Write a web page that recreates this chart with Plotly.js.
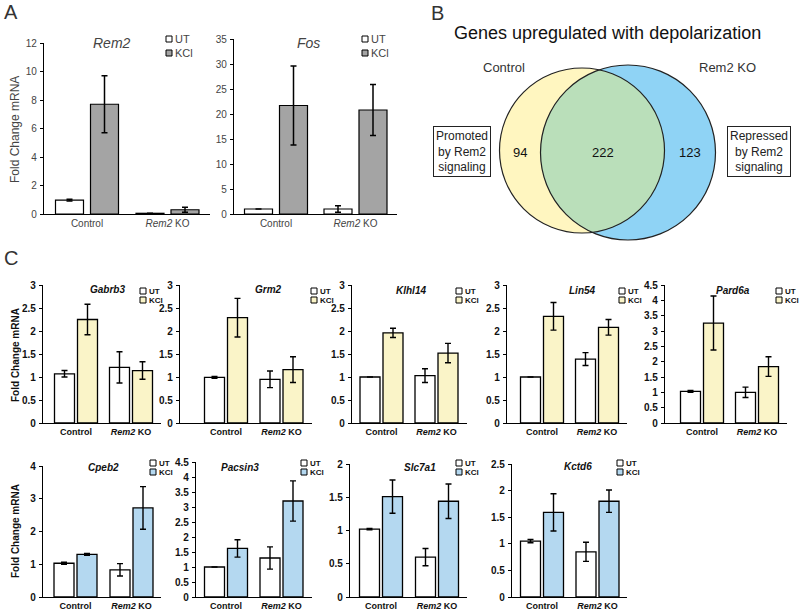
<!DOCTYPE html>
<html>
<head>
<meta charset="utf-8">
<script src="https://cdn.plot.ly/plotly-3.0.1.min.js"></script>
<style>
  html, body { margin: 0; padding: 0; background: #fff; }
  #chart { width: 800px; height: 612px; }
</style>
</head>
<body>
<div id="chart"></div>
<script>
// Groups on every bar panel
const groups = ['Control', 'Rem2 KO'];
const groupLabels = ['Control', '<i>Rem2</i> KO'];

// Panel A: Rem2 and Fos (fold change mRNA, mean and error)
const rem2UT = [0.98, 0.05];
const rem2UTErr = [0.06, 0];
const rem2KCl = [7.7, 0.3];
const rem2KClErr = [2.0, 0.17];
const fosUT = [1.0, 1.0];
const fosUTErr = [0, 0.65];
const fosKCl = [21.7, 20.8];
const fosKClErr = [7.9, 5.1];

// Panel B: Venn counts (Control only, both, Rem2 KO only)
const vennSets = ['Control', 'Rem2 KO'];
const vennCounts = [94, 222, 123];
const vennNotes = ['Promoted<br>by Rem2<br>signaling', 'Repressed<br>by Rem2<br>signaling'];

// Panel C: genes, fold change mRNA per condition
const genesC = ['Gabrb3', 'Grm2', 'Klhl14', 'Lin54', 'Pard6a', 'Cpeb2', 'Pacsin3', 'Slc7a1', 'Kctd6'];
const utCtrl = [1.07, 0.99, 1.0, 1.0, 1.03, 1.03, 1.0, 1.02, 1.05];
const utCtrlErr = [0.07, 0.02, 0, 0, 0.03, 0.03, 0, 0.01, 0.03];
const utKO = [1.21, 0.95, 1.03, 1.39, 1.0, 0.83, 1.3, 0.6, 0.85];
const utKOErr = [0.34, 0.18, 0.15, 0.14, 0.17, 0.19, 0.37, 0.13, 0.18];
const kclCtrl = [2.25, 2.29, 1.96, 2.32, 3.26, 1.3, 1.62, 1.51, 1.59];
const kclCtrlErr = [0.33, 0.42, 0.1, 0.3, 0.88, 0.03, 0.29, 0.25, 0.35];
const kclKO = [1.14, 1.16, 1.52, 2.08, 1.84, 2.72, 3.2, 1.44, 1.8];
const kclKOErr = [0.19, 0.28, 0.21, 0.17, 0.32, 0.65, 0.67, 0.26, 0.21];

const W = 800, H = 612;
function px(x) { return x / W; }
function py(y) { return 1 - y / H; }

const fontA = 'Liberation Sans, Arial, sans-serif';
const fontC = 'Liberation Sans Narrow, Liberation Sans, Arial, sans-serif';

// panel geometry in page pixels
const panelsA = [
  {name: 'Rem2', ut: rem2UT, utErr: rem2UTErr, kcl: rem2KCl, kclErr: rem2KClErr,
   x0: 44, x1: 210, c0: 87, c1: 167.5, yTop: 43, yBot: 214, ymax: 12, dtick: 2,
   title: [112, 43], legend: [166, 39]},
  {name: 'Fos', ut: fosUT, utErr: fosUTErr, kcl: fosKCl, kclErr: fosKClErr,
   x0: 234, x1: 397, c0: 276, c1: 355.5, yTop: 39, yBot: 214, ymax: 35, dtick: 5,
   title: [308, 43], legend: [362, 39]}
];

const geomC = [
  {x0: 43, x1: 161, c0: 76, c1: 131, yTop: 285, yBot: 423, ymax: 3, dtick: 0.5, title: [107, 289], legend: [140, 291]},
  {x0: 180, x1: 312, c0: 226, c1: 281.5, yTop: 285, yBot: 423, ymax: 3, dtick: 0.5, title: [268, 289], legend: [311, 291]},
  {x0: 352, x1: 467, c0: 381.5, c1: 436.5, yTop: 285, yBot: 423, ymax: 3, dtick: 0.5, title: [411, 290], legend: [456, 291]},
  {x0: 507, x1: 627, c0: 542, c1: 597, yTop: 285, yBot: 423, ymax: 3, dtick: 0.5, title: [582, 290], legend: [619, 291]},
  {x0: 665, x1: 787, c0: 702, c1: 757, yTop: 285, yBot: 423, ymax: 4.5, dtick: 0.5, title: [733, 290], legend: [776, 291]},
  {x0: 43, x1: 161, c0: 75.5, c1: 131.5, yTop: 466, yBot: 597, ymax: 4, dtick: 1, title: [103, 467], legend: [150, 463]},
  {x0: 196, x1: 312, c0: 226, c1: 281.5, yTop: 462, yBot: 597, ymax: 4.5, dtick: 0.5, title: [240, 468], legend: [301, 463]},
  {x0: 350, x1: 467, c0: 381, c1: 437, yTop: 464, yBot: 597, ymax: 2, dtick: 0.5, title: [420, 467], legend: [456, 463]},
  {x0: 512, x1: 627, c0: 542, c1: 597.5, yTop: 464, yBot: 597, ymax: 2.5, dtick: 0.5, title: [578, 466], legend: [617, 463]}
];

const data = [];
const layout = {
  width: W, height: H,
  margin: {l: 0, r: 0, t: 0, b: 0},
  paper_bgcolor: '#ffffff',
  plot_bgcolor: 'rgba(0,0,0,0)',
  showlegend: false,
  barmode: 'overlay',
  annotations: [],
  shapes: []
};

function addText(text, x, y, opts) {
  layout.annotations.push(Object.assign({
    text: text, xref: 'paper', yref: 'paper', x: px(x), y: py(y),
    xanchor: 'center', yanchor: 'middle', showarrow: false
  }, opts));
}

function addBarPanel(n, g, vals, style) {
  const s = g.c1 - g.c0;
  const xa = 'xaxis' + (n === 1 ? '' : n);
  const ya = 'yaxis' + (n === 1 ? '' : n);
  const xr = 'x' + (n === 1 ? '' : n);
  const yr = 'y' + (n === 1 ? '' : n);
  layout[xa] = {
    domain: [px(g.x0), px(g.x1)], anchor: yr, type: 'category',
    range: [-(g.c0 - g.x0) / s, 1 + (g.x1 - g.c1) / s],
    tickmode: 'array', tickvals: groups, ticktext: groupLabels,
    showline: true, linecolor: '#000', linewidth: style.axisW, ticks: '',
    showgrid: false, zeroline: false, fixedrange: true,
    tickfont: style.xTickFont || style.tickFont, ticklabelstandoff: 0
  };
  layout[ya] = {
    domain: [py(g.yBot), py(g.yTop)], anchor: xr,
    range: [0, g.ymax], dtick: g.dtick, tick0: 0,
    showline: true, linecolor: '#000', linewidth: style.axisW,
    ticks: 'outside', ticklen: 3, tickwidth: 1, tickcolor: '#000',
    showgrid: false, zeroline: false, fixedrange: true,
    tickfont: style.tickFont, ticklabelstandoff: 1
  };
  const w = style.barPx / s;
  const off = style.gapPx / 2 / s;
  const series = [
    {y: vals.ut, e: vals.utErr, color: '#ffffff', offset: -off - w, name: 'UT'},
    {y: vals.kcl, e: vals.kclErr, color: style.kclColor, offset: off, name: 'KCl'}
  ];
  series.forEach(function(sr) {
    data.push({
      type: 'bar', x: groups, y: sr.y, name: sr.name,
      xaxis: xr, yaxis: yr, width: w, offset: sr.offset,
      marker: {color: sr.color, line: {color: '#000', width: style.barLine}},
      error_y: {type: 'data', array: sr.e, visible: true, color: '#000',
                thickness: style.errW, width: style.capW},
      hoverinfo: 'skip'
    });
  });
  // gene title
  addText('<i>' + vals.title + '</i>', g.title[0], g.title[1], {font: style.titleFont});
  // small legend
  [['UT', '#ffffff'], ['KCl', style.kclColor]].forEach(function(it, i) {
    const lx = g.legend[0], ly = g.legend[1] + i * style.legDy;
    const h = style.swatch / 2;
    layout.shapes.push({
      type: 'rect', xref: 'paper', yref: 'paper',
      x0: px(lx), x1: px(lx + style.swatch), y0: py(ly + h), y1: py(ly - h),
      fillcolor: it[1], line: {color: '#000', width: 1}
    });
    addText(it[0], lx + style.swatch + 1, ly, {xanchor: 'left', font: style.legFont});
  });
}

const styleA = {
  barPx: 28, gapPx: 7, barLine: 1.2, errW: 1.5, capW: 3, axisW: 1.2, swatch: 6, legDy: 14,
  kclColor: '#a4a4a4',
  tickFont: {family: fontA, size: 10, color: '#444'},
  titleFont: {family: fontA, size: 14, color: '#444'},
  legFont: {family: fontA, size: 11, color: '#444'}
};

panelsA.forEach(function(p, i) {
  addBarPanel(i + 1, p, {ut: p.ut, utErr: p.utErr, kcl: p.kcl, kclErr: p.kclErr, title: p.name}, styleA);
});

genesC.forEach(function(gene, i) {
  const st = Object.assign({}, styleA, {
    barPx: 20, gapPx: 3, barLine: 1.3, errW: 1.4, capW: 3, swatch: 6, legDy: 9,
    kclColor: i < 5 ? '#faf4c8' : '#b4d8f0',
    tickFont: {family: fontC, size: 10, color: '#111', weight: 'bold'},
    xTickFont: {family: fontC, size: 9, color: '#111', weight: 'bold'},
    titleFont: {family: fontC, size: 10, color: '#111', weight: 'bold'},
    legFont: {family: fontC, size: 8, color: '#111', weight: 'bold'}
  });
  addBarPanel(i + 3, geomC[i], {
    ut: [utCtrl[i], utKO[i]], utErr: [utCtrlErr[i], utKOErr[i]],
    kcl: [kclCtrl[i], kclKO[i]], kclErr: [kclCtrlErr[i], kclKOErr[i]],
    title: gene
  }, st);
});

// y axis labels and panel letters
addText('Fold Change mRNA', 15, 130, {textangle: -90, font: {family: fontA, size: 12, color: '#444'}});
addText('Fold Change mRNA', 15, 355, {textangle: -90, font: {family: fontC, size: 10, color: '#111', weight: 'bold'}});
addText('Fold Change mRNA', 15, 531, {textangle: -90, font: {family: fontC, size: 10, color: '#111', weight: 'bold'}});
addText('A', 11, 12, {font: {family: fontA, size: 20, color: '#333'}});
addText('B', 437, 13, {font: {family: fontA, size: 20, color: '#333'}});
addText('C', 11, 258, {font: {family: fontA, size: 20, color: '#333'}});

// Panel B: Venn diagram on a hidden axis measured in page pixels
const vx0 = 490, vx1 = 730, vyTop = 55, vyBot = 250;
layout.xaxis12 = {domain: [px(vx0), px(vx1)], range: [vx0, vx1], anchor: 'y12', visible: false, fixedrange: true};
layout.yaxis12 = {domain: [py(vyBot), py(vyTop)], range: [vyBot, vyTop], anchor: 'x12', visible: false, fixedrange: true};

const c1 = {x: 582, y: 150.5, r: 82.5, fill: '#fff6c0'};
const c2 = {x: 628, y: 152.5, r: 87.5, fill: '#8fd3f5'};
[c1, c2].forEach(function(c) {
  layout.shapes.push({type: 'circle', xref: 'x12', yref: 'y12', layer: 'below',
    x0: c.x - c.r, x1: c.x + c.r, y0: c.y - c.r, y1: c.y + c.r,
    fillcolor: c.fill, line: {width: 0}});
});
// lens (overlap) outline from the two circles
const dx = c2.x - c1.x, dy = c2.y - c1.y;
const d = Math.sqrt(dx * dx + dy * dy);
const phi = Math.atan2(dy, dx);
const a = (d * d + c1.r * c1.r - c2.r * c2.r) / (2 * d);
const t1 = Math.acos(a / c1.r);
const t2 = Math.acos((d - a) / c2.r);
const lensX = [], lensY = [];
for (let k = 0; k <= 60; k++) {
  const ang = phi - t1 + 2 * t1 * k / 60;
  lensX.push(c1.x + c1.r * Math.cos(ang));
  lensY.push(c1.y + c1.r * Math.sin(ang));
}
for (let k = 0; k <= 60; k++) {
  const ang = phi + Math.PI - t2 + 2 * t2 * k / 60;
  lensX.push(c2.x + c2.r * Math.cos(ang));
  lensY.push(c2.y + c2.r * Math.sin(ang));
}
data.push({type: 'scatter', mode: 'lines', x: lensX, y: lensY, xaxis: 'x12', yaxis: 'y12',
  fill: 'toself', fillcolor: '#badfba', line: {width: 0}, hoverinfo: 'skip'});
[c1, c2].forEach(function(c) {
  layout.shapes.push({type: 'circle', xref: 'x12', yref: 'y12', layer: 'above',
    x0: c.x - c.r, x1: c.x + c.r, y0: c.y - c.r, y1: c.y + c.r,
    fillcolor: 'rgba(0,0,0,0)', line: {color: '#222', width: 1.2}});
});

// counts placed in the middle of each region
const lensL = c2.x - c2.r, lensR = c1.x + c1.r;
const countX = [(c1.x - c1.r + lensL) / 2, (lensL + lensR) / 2, (lensR + c2.x + c2.r) / 2];
vennCounts.forEach(function(v, i) {
  layout.annotations.push({text: String(v), xref: 'x12', yref: 'y12', x: countX[i], y: 152,
    showarrow: false, font: {family: fontA, size: 13, color: '#111'}});
});
addText('Genes upregulated with depolarization', 607, 33, {font: {family: fontA, size: 18, color: '#111'}});
addText(vennSets[0], 504, 67, {font: {family: fontA, size: 13, color: '#333'}});
addText(vennSets[1], 727, 67, {font: {family: fontA, size: 13, color: '#333'}});
addText(vennNotes[0], 462, 151, {font: {family: fontA, size: 12, color: '#222'},
  bordercolor: '#222', borderwidth: 1, borderpad: 2, bgcolor: '#fff'});
addText(vennNotes[1], 759, 151, {font: {family: fontA, size: 12, color: '#222'},
  bordercolor: '#222', borderwidth: 1, borderpad: 2, bgcolor: '#fff'});

Plotly.newPlot('chart', data, layout, {staticPlot: true});
</script>
</body>
</html>
